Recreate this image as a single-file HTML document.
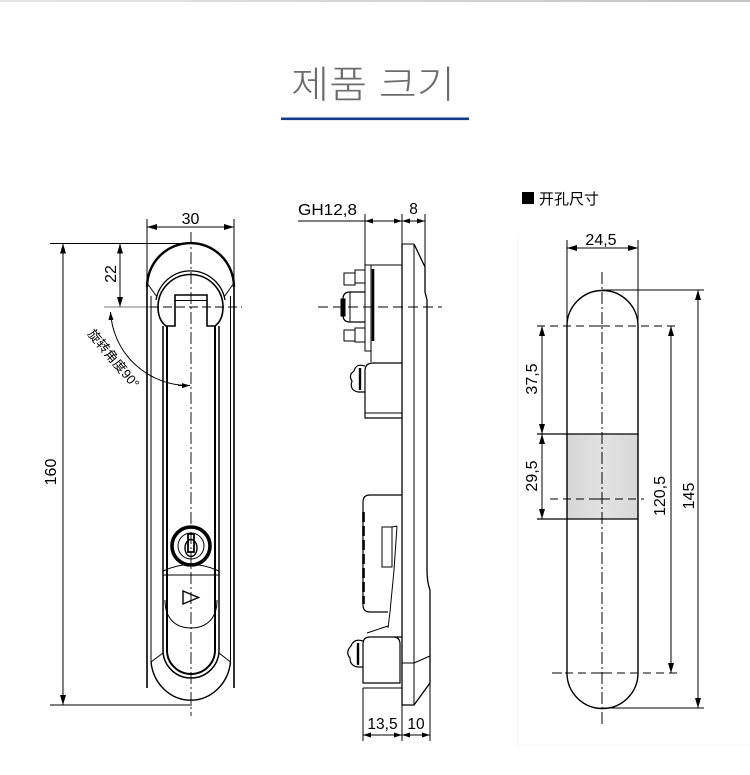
<!DOCTYPE html>
<html><head><meta charset="utf-8">
<style>
html,body{margin:0;padding:0;background:#fff;}
body{width:750px;height:775px;overflow:hidden;position:relative;}
svg{position:absolute;left:0;top:0;}
text{font-family:"Liberation Sans","Noto Sans CJK SC",sans-serif;}
</style></head>
<body>
<svg width="750" height="775" viewBox="0 0 750 775" xmlns="http://www.w3.org/2000/svg">
<defs>
  <marker id="ar" viewBox="0 0 10 6" refX="10" refY="3" markerWidth="10" markerHeight="6" orient="auto-start-reverse" markerUnits="userSpaceOnUse">
    <path d="M0,0 L10,3 L0,6 Z" fill="#000"/>
  </marker>
  <marker id="ars" viewBox="0 0 8 5" refX="8" refY="2.5" markerWidth="8" markerHeight="5" orient="auto-start-reverse" markerUnits="userSpaceOnUse">
    <path d="M0,0 L8,2.5 L0,5 Z" fill="#000"/>
  </marker>
  <radialGradient id="sh" cx="0.5" cy="0" r="0.5">
    <stop offset="0" stop-color="#000" stop-opacity="0.10"/>
    <stop offset="1" stop-color="#000" stop-opacity="0"/>
  </radialGradient>
  <linearGradient id="tb" x1="0" x2="1" y1="0" y2="0">
    <stop offset="0" stop-color="#e6e6e6"/>
    <stop offset="1" stop-color="#c4c4c8"/>
  </linearGradient>
  <linearGradient id="gr" x1="0" x2="1" y1="0" y2="0">
    <stop offset="0" stop-color="#d6d6d6"/>
    <stop offset="0.5" stop-color="#e2e2e2"/>
    <stop offset="1" stop-color="#d8d8d8"/>
  </linearGradient>
</defs>

<!-- top decoration -->
<rect x="0" y="0" width="750" height="2" fill="url(#tb)"/>
<ellipse cx="205" cy="0" rx="95" ry="32" fill="url(#sh)"/>

<!-- title -->
<text x="291" y="98" font-size="38" fill="#6c6c6c" textLength="164" lengthAdjust="spacingAndGlyphs" style="font-family:'Liberation Sans','Noto Sans CJK KR',sans-serif;font-weight:300">제품 크기</text>
<rect x="281" y="117.5" width="188" height="2.6" fill="#123d8c"/>

<!-- ================= LEFT DRAWING ================= -->
<g fill="none" stroke="#000" stroke-width="1">
  <!-- dimension 30 -->
  <line x1="147" y1="219" x2="147" y2="287"/>
  <line x1="234" y1="219" x2="234" y2="287"/>
  <line x1="147" y1="227" x2="234" y2="227" marker-start="url(#ar)" marker-end="url(#ar)"/>
  <!-- top/bottom reference lines -->
  <line x1="50" y1="243.5" x2="192" y2="243.5"/>
  <line x1="50" y1="705" x2="192" y2="705"/>
  <line x1="63" y1="243.5" x2="63" y2="705" marker-start="url(#ar)" marker-end="url(#ar)"/>
  <!-- 22 -->
  <line x1="120" y1="243.5" x2="120" y2="307" marker-start="url(#ar)" marker-end="url(#ar)"/>
  <line x1="104" y1="307" x2="150" y2="307" stroke="#777"/>
  <line x1="150" y1="307" x2="242" y2="307" stroke-dasharray="9,4"/>
  <!-- rotation arc -->
  <path d="M110.5,312 A78,78 0 0 0 190,385.5" marker-start="url(#ars)" marker-end="url(#ars)"/>
  <line x1="178" y1="385.5" x2="190" y2="385.5"/>

  <!-- outer body -->
  <path d="M147,287 A43.5,44 0 0 1 234,287" stroke-width="2.4"/>
  <line x1="147" y1="287" x2="147" y2="688" stroke-width="1.6"/>
  <line x1="234" y1="287" x2="234" y2="688" stroke-width="1.6"/>
  <line x1="151" y1="296" x2="151" y2="662"/>
  <line x1="230.5" y1="296" x2="230.5" y2="662"/>
  <line x1="147" y1="283" x2="157" y2="297"/>
  <line x1="234" y1="283" x2="224" y2="297"/>
  <path d="M156,300 A35,35 0 0 1 225,300" stroke-width="1.3"/>
  <path d="M166,326 Q158,320 158,307 A32.5,32.5 0 0 1 223,307 Q223,320 215,326 L207,326 L207,295 L175,295 L175,326 Z" stroke-width="1.6"/>
  <line x1="175" y1="300.5" x2="207" y2="300.5"/>

  <!-- handle -->
  <path d="M163,326 L163,650 A28,28 0 0 0 219,650 L219,326" stroke-width="1.5"/>
  <path d="M167,326 L167,650 A24,24 0 0 0 215,650 L215,326" stroke-width="2"/>

  <!-- bottom outer U -->
  <path d="M151,662 A40,43 0 0 0 230.5,662" stroke-width="1.4"/>
  <line x1="151" y1="662" x2="163" y2="653"/>
  <line x1="230.5" y1="662" x2="219" y2="653"/>

  <!-- lock -->
  <circle cx="191" cy="546" r="19" stroke-width="3.6"/>
  <circle cx="191" cy="546" r="13" stroke-width="1"/>
  <ellipse cx="191" cy="548" rx="6" ry="8.5" stroke-width="1.4"/>
  <rect x="188" y="534" width="6" height="18" stroke-width="1.8"/>
  <path d="M163,571 Q191,558 219,571" stroke-width="1"/>
  <line x1="163" y1="575" x2="219" y2="575"/>
  <path d="M183,591 L198.5,597.5 L183,604 Z" stroke-width="1.4"/>
  <path d="M165,600 C165,621 178,628 191,628 C204,628 217,621 217,600"/>

  <!-- centerline -->
  <line x1="191" y1="232" x2="191" y2="716" stroke-dasharray="12,3,2,3" stroke-width="0.9"/>
</g>
<text x="190.5" y="224" font-size="16" text-anchor="middle">30</text>
<text transform="translate(116,274) rotate(-90)" font-size="16" text-anchor="middle">22</text>
<text transform="translate(56,472) rotate(-90)" font-size="16" text-anchor="middle">160</text>
<text transform="translate(87,334) rotate(50)" font-size="13" textLength="72" lengthAdjust="spacingAndGlyphs">旋转角度90°</text>

<!-- ================= MIDDLE DRAWING ================= -->
<g fill="none" stroke="#000" stroke-width="1">
  <!-- dims top -->
  <line x1="298" y1="221" x2="365" y2="221"/>
  <line x1="365" y1="214" x2="365" y2="266"/>
  <line x1="402" y1="214" x2="402" y2="244"/>
  <line x1="425" y1="214" x2="425" y2="267"/>
  <line x1="365" y1="221" x2="402" y2="221" marker-start="url(#ars)" marker-end="url(#ars)"/>
  <line x1="402" y1="221" x2="425" y2="221" marker-start="url(#ars)" marker-end="url(#ars)"/>

  <!-- plate -->
  <line x1="402" y1="244" x2="402" y2="705" stroke-width="1.3"/>
  <line x1="414" y1="244" x2="414" y2="705"/>
  <line x1="402" y1="244" x2="414" y2="244"/>
  <path d="M414,244 L425,267 L425,292 L427,300 L427,570 Q427,582 430,590 L430,683 L414,705 L402,705" stroke-width="1.3"/>
  <line x1="414" y1="663" x2="430" y2="656"/>
  <line x1="402" y1="663" x2="414" y2="663"/>

  <!-- upper mechanism -->
  <rect x="365" y="265" width="6" height="86"/>
  <line x1="373" y1="269" x2="373" y2="341" stroke-width="2.6"/>
  <line x1="371" y1="265" x2="402" y2="265"/>
  <line x1="371" y1="351" x2="371" y2="362"/>
  <rect x="355" y="270" width="10" height="13"/>
  <rect x="344" y="273" width="11" height="12"/>
  <rect x="355" y="328" width="10" height="14"/>
  <rect x="344" y="330" width="11" height="11"/>
  <path d="M365,292 L350,292 Q343,292 343,299 L343,315 Q343,322 350,322 L365,322" stroke-width="1.3"/>
  <line x1="350" y1="292" x2="350" y2="322"/>
  <rect x="341" y="299" width="4" height="17" fill="#000"/>
  <path d="M402,363 L373,363 Q365,363 365,371 L365,418 L402,418" stroke-width="1.2"/>
  <line x1="365" y1="413" x2="402" y2="413"/>
  <path d="M365,366 Q356,363 354,371 Q348,375 352,381 Q349,390 358,392 L365,392" stroke-width="1.2"/>
  <line x1="360" y1="368" x2="360" y2="390" stroke-width="2.4"/>
  <line x1="318" y1="307" x2="442" y2="307" stroke-dasharray="10,5"/>

  <!-- lower mechanism -->
  <path d="M402,495 L370,495 Q363,495 363,502 L363,605 Q363,612 370,612 L388,612" stroke-width="1.2"/>
  <line x1="363.5" y1="512" x2="363.5" y2="604" stroke-width="2.6" stroke-dasharray="10,4"/>
  <rect x="382" y="527" width="10" height="40"/>
  <line x1="392" y1="527" x2="397" y2="526"/>
  <path d="M397,526 L394,570 L390,612 L388,628"/>
  <line x1="367" y1="633" x2="388" y2="626"/>
  <path d="M402,637 L370,637 Q363,637 363,644 L363,683 L400,683 L400,644 Q400,637 393,637" stroke-width="1.2"/>
  <line x1="363" y1="688" x2="402" y2="688"/>
  <path d="M363,641 Q354,638 351,646 Q345,652 350,658 Q350,666 358,667 L363,667" stroke-width="1.2"/>
  <line x1="358" y1="643" x2="358" y2="665" stroke-width="2.4"/>

  <!-- dims bottom -->
  <line x1="363" y1="688" x2="363" y2="741"/>
  <line x1="402" y1="705" x2="402" y2="741"/>
  <line x1="430" y1="683" x2="430" y2="741"/>
  <line x1="363" y1="735" x2="402" y2="735" marker-start="url(#ars)" marker-end="url(#ars)"/>
  <line x1="402" y1="735" x2="430" y2="735" marker-start="url(#ars)" marker-end="url(#ars)"/>
</g>
<text x="298" y="215" font-size="15.5" textLength="59" lengthAdjust="spacingAndGlyphs">GH12,8</text>
<text x="413.5" y="214" font-size="15.5" text-anchor="middle">8</text>
<text x="382.5" y="729" font-size="15.5" text-anchor="middle">13,5</text>
<text x="416" y="729" font-size="15.5" text-anchor="middle">10</text>

<!-- ================= RIGHT DRAWING ================= -->
<line x1="518" y1="238" x2="518" y2="745" stroke="#f4f4f4" stroke-width="1"/>
<line x1="518" y1="745" x2="750" y2="745" stroke="#f5f5f5" stroke-width="1"/>
<rect x="522" y="192" width="12" height="12" fill="#000"/>
<text x="539" y="204" font-size="15" style="font-family:'Liberation Sans','Noto Sans CJK SC',sans-serif">开孔尺寸</text>

<rect x="567.5" y="434" width="70.5" height="85" fill="url(#gr)"/>
<g fill="none" stroke="#000" stroke-width="1">
  <path d="M567,326 A35.5,35.5 0 0 1 638,326 L638,673 A35.5,35.5 0 0 1 567,673 Z" stroke-width="1.4"/>
  <line x1="537" y1="434" x2="638" y2="434" stroke-width="1.2"/>
  <line x1="537" y1="519" x2="638" y2="519" stroke-width="1.2"/>
  <line x1="537" y1="326" x2="678" y2="326" stroke-dasharray="8,5"/>
  <line x1="550" y1="499" x2="644" y2="499" stroke-dasharray="8,5"/>
  <line x1="552" y1="673" x2="678" y2="673" stroke-dasharray="8,5"/>
  <line x1="595" y1="326" x2="609" y2="326"/>
  <line x1="595" y1="499" x2="609" y2="499"/>
  <line x1="595" y1="673" x2="609" y2="673"/>
  <line x1="552" y1="673" x2="562" y2="673"/>
  <line x1="602" y1="272" x2="602" y2="726" stroke-dasharray="12,3,2,3"/>
  <line x1="602" y1="290" x2="704" y2="290"/>
  <line x1="602" y1="708" x2="704" y2="708"/>
  <line x1="567" y1="240" x2="567" y2="326"/>
  <line x1="638" y1="240" x2="638" y2="326"/>
  <line x1="567" y1="248" x2="638" y2="248" marker-start="url(#ar)" marker-end="url(#ar)"/>
  <line x1="698" y1="290" x2="698" y2="708" marker-start="url(#ar)" marker-end="url(#ar)"/>
  <line x1="671" y1="326" x2="671" y2="673" marker-start="url(#ar)" marker-end="url(#ar)"/>
  <line x1="542" y1="326" x2="542" y2="434" marker-start="url(#ar)" marker-end="url(#ar)"/>
  <line x1="542" y1="434" x2="542" y2="519" marker-start="url(#ar)" marker-end="url(#ar)"/>
</g>
<text x="601" y="245" font-size="16" text-anchor="middle">24,5</text>
<text transform="translate(537,379) rotate(-90)" font-size="16" text-anchor="middle">37,5</text>
<text transform="translate(537,476) rotate(-90)" font-size="16" text-anchor="middle">29,5</text>
<text transform="translate(665,496) rotate(-90)" font-size="16" text-anchor="middle">120,5</text>
<text transform="translate(694,496) rotate(-90)" font-size="16" text-anchor="middle">145</text>
</svg>
</body></html>
